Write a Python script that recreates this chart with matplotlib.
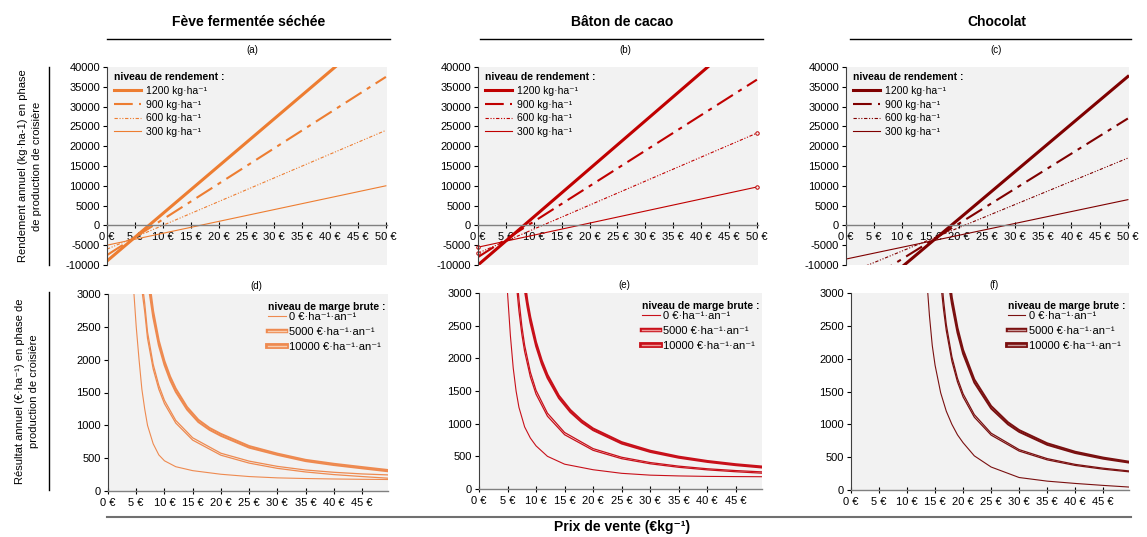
import matplotlib
matplotlib.use("Agg")
import matplotlib.pyplot as plt
from matplotlib.lines import Line2D
from matplotlib.legend_handler import HandlerTuple

plt.rcParams['font.family'] = ['Liberation Sans', 'DejaVu Sans']
plt.rcParams['axes.unicode_minus'] = False

# --- data ---
# top row: straight lines, value at 0 € and at 50 €
price_top = [0, 50]
yield_labels = ['1200 kg·ha⁻¹', '900 kg·ha⁻¹', '600 kg·ha⁻¹', '300 kg·ha⁻¹']

feve_1200 = [-9000, 50900]
feve_900 = [-7500, 37500]
feve_600 = [-6000, 24000]
feve_300 = [-5000, 10000]

baton_1200 = [-10000, 50700]
baton_900 = [-8000, 36800]
baton_600 = [-7000, 23300]
baton_300 = [-5500, 9700]

choc_1200 = [-22400, 37600]
choc_900 = [-17300, 27000]
choc_600 = [-12300, 17000]
choc_300 = [-8500, 6500]

# bottom row: curves per margin level (two close lines for 5000 and 10000)
margin_labels = ['0 €·ha⁻¹·an⁻¹', '5000 €·ha⁻¹·an⁻¹', '10000 €·ha⁻¹·an⁻¹']

feve_m0_x = [4.6, 5, 5.5, 6, 6.5, 7, 8, 9, 10, 12, 15, 20, 25, 30, 35, 40, 45, 49.6]
feve_m0_y = [3000, 2500, 2000, 1550, 1250, 1000, 720, 550, 460, 370, 310, 255, 220, 200, 190, 183, 178, 175]
feve_m5a_x = [6.1, 6.5, 7, 8, 9, 10, 12, 15, 20, 25, 30, 35, 40, 45, 49.6]
feve_m5a_y = [3000, 2735, 2325, 1860, 1550, 1330, 1035, 775, 545, 425, 345, 290, 250, 220, 195]
feve_m5b_x = [6.3, 6.5, 7, 8, 9, 10, 12, 15, 20, 25, 30, 35, 40, 45, 49.6]
feve_m5b_y = [3000, 2860, 2420, 1930, 1610, 1380, 1075, 810, 575, 455, 375, 320, 285, 260, 245]
feve_m10a_x = [7.4, 8, 9, 10, 11, 12, 14, 16, 18, 20, 25, 30, 35, 40, 45, 49.6]
feve_m10a_y = [3000, 2650, 2220, 1920, 1690, 1510, 1240, 1050, 930, 840, 660, 550, 455, 395, 345, 300]
feve_m10b_x = [7.6, 8, 9, 10, 11, 12, 14, 16, 18, 20, 25, 30, 35, 40, 45, 49.6]
feve_m10b_y = [3000, 2740, 2290, 1980, 1745, 1560, 1280, 1085, 960, 870, 685, 570, 475, 415, 365, 320]

baton_m0_x = [5.0, 5.5, 6, 6.5, 7, 8, 9, 10, 12, 15, 20, 25, 30, 35, 40, 45, 49.6]
baton_m0_y = [3000, 2350, 1850, 1500, 1250, 950, 780, 660, 500, 380, 295, 240, 212, 200, 193, 190, 188]
baton_m5a_x = [6.7, 7, 7.5, 8, 9, 10, 12, 15, 20, 25, 30, 35, 40, 45, 49.6]
baton_m5a_y = [3000, 2725, 2373, 2103, 1716, 1451, 1114, 831, 592, 464, 386, 332, 293, 264, 242]
baton_m5b_x = [6.9, 7, 7.5, 8, 9, 10, 12, 15, 20, 25, 30, 35, 40, 45, 49.6]
baton_m5b_y = [3000, 2900, 2500, 2200, 1790, 1510, 1160, 865, 618, 486, 405, 350, 310, 282, 262]
baton_m10a_x = [8.1, 8.5, 9, 10, 11, 12, 14, 16, 18, 20, 25, 30, 35, 40, 45, 49.6]
baton_m10a_y = [3000, 2782, 2550, 2186, 1913, 1700, 1391, 1177, 1020, 900, 695, 567, 478, 414, 364, 328]
baton_m10b_x = [8.3, 8.5, 9, 10, 11, 12, 14, 16, 18, 20, 25, 30, 35, 40, 45, 49.6]
baton_m10b_y = [3000, 2870, 2630, 2250, 1970, 1750, 1430, 1212, 1050, 927, 718, 587, 496, 430, 380, 345]

choc_m0_x = [13.7, 14, 14.5, 15, 16, 17, 18, 19, 20, 22, 25, 30, 35, 40, 45, 49.6]
choc_m0_y = [3000, 2650, 2200, 1900, 1480, 1200, 1000, 840, 720, 520, 350, 190, 135, 100, 70, 45]
choc_m5a_x = [16.2, 16.5, 17, 18, 19, 20, 22, 25, 30, 35, 40, 45, 49.6]
choc_m5a_y = [3000, 2757, 2429, 1962, 1645, 1417, 1109, 836, 593, 459, 374, 317, 277]
choc_m5b_x = [16.4, 16.5, 17, 18, 19, 20, 22, 25, 30, 35, 40, 45, 49.6]
choc_m5b_y = [3000, 2900, 2520, 2030, 1700, 1465, 1148, 865, 615, 478, 390, 332, 290]
choc_m10a_x = [17.7, 18, 19, 20, 22, 25, 28, 30, 35, 40, 45, 49.6]
choc_m10a_y = [3000, 2835, 2395, 2074, 1635, 1241, 1000, 885, 688, 563, 476, 417]
choc_m10b_x = [17.9, 18, 19, 20, 22, 25, 28, 30, 35, 40, 45, 49.6]
choc_m10b_y = [3000, 2930, 2470, 2135, 1685, 1280, 1032, 913, 712, 583, 494, 432]

W, H = 1147, 537
fig = plt.figure(figsize=(W / 100, H / 100), dpi=100)


def rect(left, right, top, bottom):
    return [left / W, 1 - bottom / H, (right - left) / W, (bottom - top) / H]


def fx(x):
    return x / W


def fy(y):
    return 1 - y / H


def style_axes(ax):
    ax.set_facecolor('#f2f2f2')
    for s in ['top', 'right']:
        ax.spines[s].set_visible(False)
    ax.spines['left'].set_color('#404040')
    ax.spines['left'].set_linewidth(0.8)
    ax.spines['bottom'].set_color('#808080')
    ax.spines['bottom'].set_linewidth(1.0)
    ax.tick_params(axis='y', direction='out', length=3, width=0.8, labelsize=8, pad=2)
    ax.tick_params(axis='x', direction='inout', length=4, width=0.8, labelsize=8, pad=3)


def draw_top(ax, lines, color, markers=False):
    style_axes(ax)
    styles = [dict(lw=2.2, ls='-'),
              dict(lw=1.5, ls=(0, (9, 3, 2, 3))),
              dict(lw=0.8, ls=(0, (3, 1.5, 1, 1.5, 1, 1.5))),
              dict(lw=0.8, ls='-')]
    for i, (vals, lab, st) in enumerate(zip(lines, yield_labels, styles)):
        ax.plot(price_top, vals, color=color, label=lab, **st)
        if markers and i >= 2:
            ax.plot(price_top, vals, ls='none', marker='o', ms=2.5, mfc='#f2f2f2',
                    mec=color, mew=0.7, clip_on=False)
    ax.set_xlim(0, 50.2)
    ax.set_ylim(-10000, 40000)
    ax.set_yticks(range(-10000, 40001, 5000))
    ax.set_xticks(range(0, 51, 5))
    ax.set_xticklabels([f'{v} €' for v in range(0, 51, 5)])
    ax.spines['bottom'].set_position(('data', 0))
    leg = ax.legend(loc='upper left', bbox_to_anchor=(0.0, 1.01), frameon=False,
                    title='niveau de rendement :', fontsize=7.5, handlelength=2.6,
                    handletextpad=0.4, labelspacing=0.35, borderaxespad=0.3)
    leg.get_title().set_fontweight('bold')
    leg.get_title().set_fontsize(7.5)
    leg._legend_box.align = 'left'


def draw_bottom(ax, m0, m5, m10, color, light, legx):
    style_axes(ax)
    ax.plot(m0[0], m0[1], color=color, lw=0.8)
    for x, y in m5:
        ax.plot(x, y, color=color, lw=0.9)
    for x, y in m10:
        ax.plot(x, y, color=color, lw=1.4)
    ax.set_xlim(0, 49.6)
    ax.set_ylim(0, 3000)
    ax.set_yticks(range(0, 3001, 500))
    ax.set_xticks(range(0, 46, 5))
    ax.set_xticklabels([f'{v} €' for v in range(0, 46, 5)])
    handles = [Line2D([], [], color=color, lw=0.8),
               (Line2D([], [], color=color, lw=3.2), Line2D([], [], color=light, lw=1.0)),
               (Line2D([], [], color=color, lw=4.2), Line2D([], [], color=light, lw=1.0))]
    leg = ax.legend(handles, margin_labels, handler_map={tuple: HandlerTuple(ndivide=1)},
                    loc='upper left', bbox_to_anchor=(legx, 1.0), frameon=False,
                    title='niveau de marge brute :', fontsize=8, handlelength=1.6,
                    handletextpad=0.3, labelspacing=0.45, borderaxespad=0.3)
    leg.get_title().set_fontweight('bold')
    leg.get_title().set_fontsize(7.5)
    leg._legend_box.align = 'left'
    leg._legend_box.sep = 0


orange = '#ed7d31'
red = '#c00000'
maroon = '#7f0000'

ax_a = fig.add_axes(rect(107, 387, 67, 265))
draw_top(ax_a, [feve_1200, feve_900, feve_600, feve_300], orange)
ax_b = fig.add_axes(rect(478, 758, 67, 265))
draw_top(ax_b, [baton_1200, baton_900, baton_600, baton_300], red, markers=True)
ax_c = fig.add_axes(rect(846, 1129, 67, 265))
draw_top(ax_c, [choc_1200, choc_900, choc_600, choc_300], maroon)

ax_d = fig.add_axes(rect(108, 388, 294, 491))
draw_bottom(ax_d, (feve_m0_x, feve_m0_y),
            [(feve_m5a_x, feve_m5a_y), (feve_m5b_x, feve_m5b_y)],
            [(feve_m10a_x, feve_m10a_y), (feve_m10b_x, feve_m10b_y)],
            '#ee8a50', '#f8cdb0', 0.545)
ax_e = fig.add_axes(rect(479, 762, 293, 489))
draw_bottom(ax_e, (baton_m0_x, baton_m0_y),
            [(baton_m5a_x, baton_m5a_y), (baton_m5b_x, baton_m5b_y)],
            [(baton_m10a_x, baton_m10a_y), (baton_m10b_x, baton_m10b_y)],
            '#c8101a', '#ef9a9a', 0.548)
ax_f = fig.add_axes(rect(851, 1129, 293, 490))
draw_bottom(ax_f, (choc_m0_x, choc_m0_y),
            [(choc_m5a_x, choc_m5a_y), (choc_m5b_x, choc_m5b_y)],
            [(choc_m10a_x, choc_m10a_y), (choc_m10b_x, choc_m10b_y)],
            '#7a1010', '#c99a9a', 0.535)

# column titles with rule underneath
titles = [('Fève fermentée séchée', 249, 107, 390), ('Bâton de cacao', 622, 480, 763),
          ('Chocolat', 997, 850, 1131)]
for txt, cx, x1, x2 in titles:
    fig.text(fx(cx), fy(22), txt, ha='center', va='center', fontsize=10, fontweight='bold')
    fig.add_artist(Line2D([fx(x1), fx(x2)], [fy(39), fy(39)], color='black', lw=1.0))

for lab, cx, cy in [('(a)', 252, 50), ('(b)', 625, 50), ('(c)', 996, 50),
                    ('(d)', 256, 286), ('(e)', 624, 285), ('(f)', 994, 285)]:
    fig.text(fx(cx), fy(cy), lab, ha='center', va='center', fontsize=7)

# row labels with vertical rules
fig.text(fx(30), fy(166), 'Rendement annuel (kg·ha-1) en phase\nde production de croisière',
         rotation=90, ha='center', va='center', fontsize=8, linespacing=1.5)
fig.add_artist(Line2D([fx(49), fx(49)], [fy(67), fy(265)], color='black', lw=1.0))
fig.text(fx(27), fy(391), 'Résultat annuel (€·ha⁻¹) en phase de\nproduction de croisière',
         rotation=90, ha='center', va='center', fontsize=8, linespacing=1.5)
fig.add_artist(Line2D([fx(49), fx(49)], [fy(292), fy(490)], color='black', lw=1.0))

# common x label
fig.add_artist(Line2D([fx(107), fx(1131)], [fy(517), fy(517)], color='#707070', lw=1.5))
fig.text(fx(622), fy(527), 'Prix de vente (€kg⁻¹)', ha='center', va='center',
         fontsize=10, fontweight='bold')

fig.savefig('out.png', dpi=100)
